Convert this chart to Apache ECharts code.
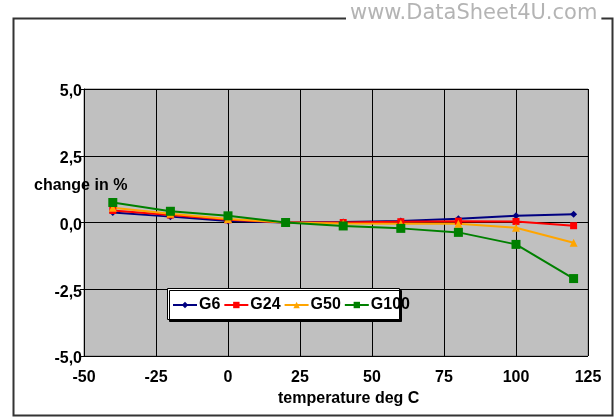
<!DOCTYPE html>
<html>
<head>
<meta charset="utf-8">
<script src="https://cdn.jsdelivr.net/npm/echarts@6/dist/echarts.min.js"></script>
<style>
html,body{margin:0;padding:0;background:#fff;}
#c{width:616px;height:417px;}
</style>
</head>
<body>
<div id="c"></div>
<script>
var temps = [-40, -20, 0, 20, 40, 60, 80, 100, 120];
var g6   = [0.37, 0.22, 0.06, 0, 0.02, 0.06, 0.14, 0.25, 0.31];
var g24  = [0.45, 0.28, 0.10, 0, 0.00, 0.03, 0.05, 0.04, -0.12];
var g50  = [0.55, 0.33, 0.13, 0, -0.04, -0.05, -0.05, -0.20, -0.76];
var g100 = [0.75, 0.42, 0.25, 0, -0.13, -0.22, -0.37, -0.82, -2.10];
var seriesNames = ['G6', 'G24', 'G50', 'G100'];

function pairs(vals){ return temps.map(function(t,i){ return [t, vals[i]]; }); }

var FONT = '"Liberation Sans", Arial, sans-serif';
var chart = echarts.init(document.getElementById('c'), null, {renderer:'canvas'});

function mk(name, vals, color, symbol, size){
  return {
    name: name, type: 'line', data: pairs(vals),
    symbol: symbol, symbolSize: size, showSymbol: true,
    lineStyle: {color: color, width: 2},
    itemStyle: {color: color},
    emphasis: {disabled: true},
    animation: false
  };
}

chart.setOption({
  animation: false,
  backgroundColor: '#fff',
  grid: {left: 84, right: 28, top: 89, bottom: 61, show: true, backgroundColor: '#c0c0c0', borderColor: '#808080', borderWidth: 1},
  xAxis: {
    type: 'value', min: -50, max: 125, interval: 25,
    axisLine: {show: true, lineStyle: {color: '#000', width: 1}},
    axisTick: {show: true, length: 4, lineStyle: {color: '#000'}},
    axisLabel: {fontFamily: FONT, fontWeight: 'bold', fontSize: 16, color: '#000', margin: 14},
    splitLine: {show: true, lineStyle: {color: '#000', width: 1}}
  },
  yAxis: {
    type: 'value', min: -5, max: 5, interval: 2.5,
    axisLine: {show: true, onZero: false, lineStyle: {color: '#000', width: 1}},
    axisTick: {show: true, length: 4, lineStyle: {color: '#000'}},
    axisLabel: {fontFamily: FONT, fontWeight: 'bold', fontSize: 16, color: '#000', margin: 2,
      verticalAlign: 'top', lineHeight: 6,
      formatter: function(v){ return v.toFixed(1).replace('.', ','); }},
    splitLine: {show: true, lineStyle: {color: '#000', width: 1}}
  },
  legend: {
    data: seriesNames,
    left: 172, top: 297, z: 20,
    itemWidth: 24, itemHeight: 8, itemGap: 3,
    padding: 0,
    backgroundColor: 'transparent',
    textStyle: {fontFamily: FONT, fontWeight: 'bold', fontSize: 16, color: '#000', padding: [0,0,0,-3]}
  },
  graphic: [
    {type: 'rect', left: 11, top: 16, shape: {width: 599, height: 397}, style: {fill: 'none', stroke: '#333', lineWidth: 2}, z: 0, silent: true},
    {type: 'rect', left: 167, top: 288, shape: {width: 232, height: 31}, style: {fill: '#fff', stroke: '#000', lineWidth: 1, shadowColor: '#000', shadowOffsetX: 2, shadowOffsetY: 2}, z: 5, silent: true},
    {type: 'text', left: 34, top: 178, style: {text: 'change in %', fontFamily: FONT, fontWeight: 'bold', fontSize: 16, fill: '#000'}, z: 10},
    {type: 'text', left: 278, top: 391, style: {text: 'temperature deg C', fontFamily: FONT, fontWeight: 'bold', fontSize: 16, fill: '#000'}, z: 10},
    {type: 'text', left: 346, top: 3, style: {text: 'www.DataSheet4U.com', fontFamily: '"DejaVu Sans", sans-serif', fontSize: 21, fill: '#b4b4b4', backgroundColor: '#fff', padding: [0, 4, 0, 4]}, z: 10}
  ],
  series: [
    mk('G6', g6, '#000080', 'diamond', 7),
    mk('G24', g24, '#ff0000', 'rect', 7),
    mk('G50', g50, '#ffa500', 'triangle', 8),
    mk('G100', g100, '#008000', 'rect', 9)
  ]
});
</script>
</body>
</html>
